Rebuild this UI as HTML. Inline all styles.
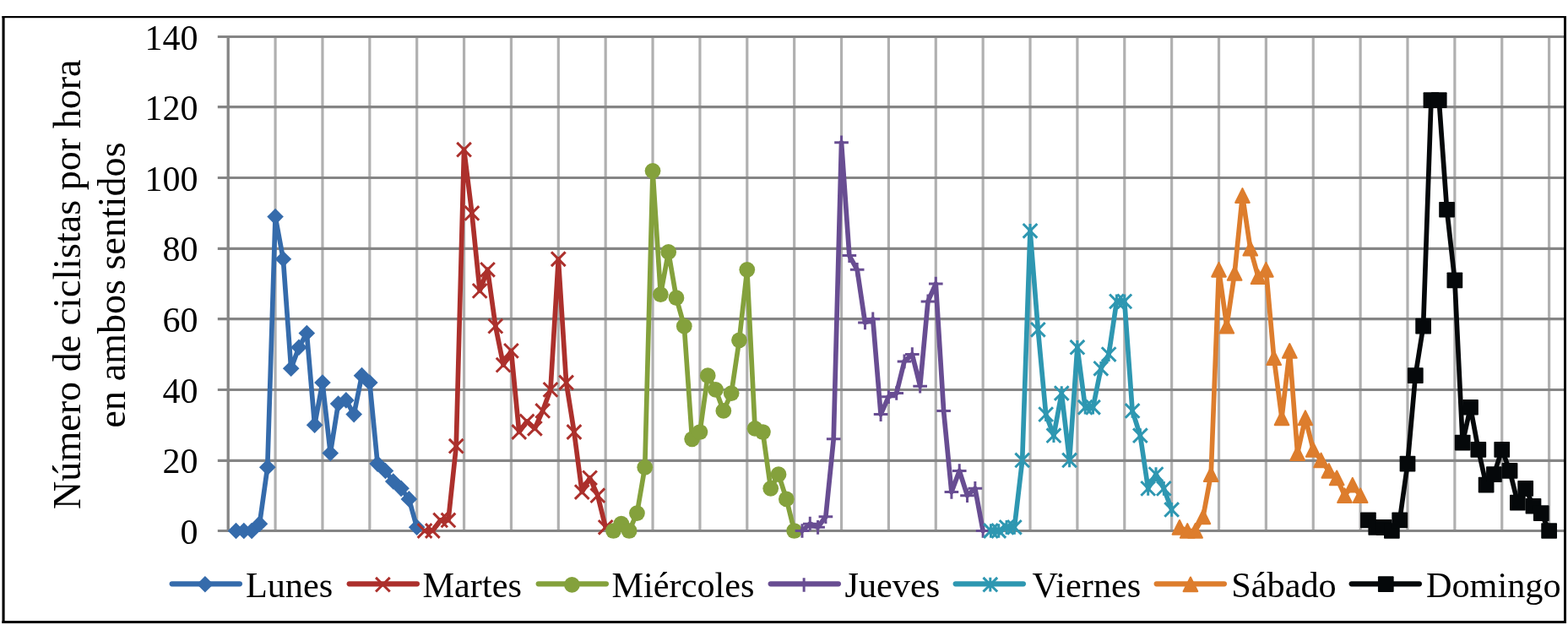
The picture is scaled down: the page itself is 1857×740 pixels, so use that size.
<!DOCTYPE html>
<html lang="es">
<head>
<meta charset="utf-8">
<title>Número de ciclistas por hora en ambos sentidos</title>
<style>
html,body{margin:0;padding:0;background:#fff;}
body{width:1857px;height:740px;overflow:hidden;}
svg{display:block;}
text{font-family:"Liberation Serif",serif;fill:#000;}
.tick{font-size:42px;text-anchor:end;}
.leg{font-size:42.25px;}
.ttl{font-size:46.1px;text-anchor:middle;}
</style>
</head>
<body>
<svg role="img" aria-label="Número de ciclistas por hora en ambos sentidos" width="1857" height="740" viewBox="0 0 1857 740">
<rect x="0" y="0" width="1857" height="740" fill="#fff"/>
<g id="frame" fill="#000">
<rect x="2.5" y="19" width="1852.5" height="2.2"/>
<rect x="2.5" y="735" width="1852.5" height="3"/>
<rect x="2.5" y="19" width="3.1" height="719"/>
<rect x="1852" y="19" width="3" height="719"/>
</g>
<g id="grid-v" stroke="#B0B0B0" stroke-width="3.2" fill="none">
<line x1="326.07" y1="43.5" x2="326.07" y2="628.5"/>
<line x1="381.94" y1="43.5" x2="381.94" y2="628.5"/>
<line x1="437.82" y1="43.5" x2="437.82" y2="628.5"/>
<line x1="493.69" y1="43.5" x2="493.69" y2="628.5"/>
<line x1="549.56" y1="43.5" x2="549.56" y2="628.5"/>
<line x1="605.43" y1="43.5" x2="605.43" y2="628.5"/>
<line x1="661.3" y1="43.5" x2="661.3" y2="628.5"/>
<line x1="717.18" y1="43.5" x2="717.18" y2="628.5"/>
<line x1="773.05" y1="43.5" x2="773.05" y2="628.5"/>
<line x1="828.92" y1="43.5" x2="828.92" y2="628.5"/>
<line x1="884.79" y1="43.5" x2="884.79" y2="628.5"/>
<line x1="940.66" y1="43.5" x2="940.66" y2="628.5"/>
<line x1="996.54" y1="43.5" x2="996.54" y2="628.5"/>
<line x1="1052.41" y1="43.5" x2="1052.41" y2="628.5"/>
<line x1="1108.28" y1="43.5" x2="1108.28" y2="628.5"/>
<line x1="1164.15" y1="43.5" x2="1164.15" y2="628.5"/>
<line x1="1220.02" y1="43.5" x2="1220.02" y2="628.5"/>
<line x1="1275.9" y1="43.5" x2="1275.9" y2="628.5"/>
<line x1="1331.77" y1="43.5" x2="1331.77" y2="628.5"/>
<line x1="1387.64" y1="43.5" x2="1387.64" y2="628.5"/>
<line x1="1443.51" y1="43.5" x2="1443.51" y2="628.5"/>
<line x1="1499.38" y1="43.5" x2="1499.38" y2="628.5"/>
<line x1="1555.26" y1="43.5" x2="1555.26" y2="628.5"/>
<line x1="1611.13" y1="43.5" x2="1611.13" y2="628.5"/>
<line x1="1667" y1="43.5" x2="1667" y2="628.5"/>
<line x1="1722.87" y1="43.5" x2="1722.87" y2="628.5"/>
<line x1="1778.74" y1="43.5" x2="1778.74" y2="628.5"/>
<line x1="1834.62" y1="43.5" x2="1834.62" y2="628.5"/>
</g>
<g id="grid-h" stroke="#858585" stroke-width="3.2" fill="none">
<line x1="257.8" y1="628.5" x2="1852" y2="628.5"/>
<line x1="257.8" y1="545.4" x2="1852" y2="545.4"/>
<line x1="257.8" y1="461.5" x2="1852" y2="461.5"/>
<line x1="257.8" y1="377.6" x2="1852" y2="377.6"/>
<line x1="257.8" y1="294.4" x2="1852" y2="294.4"/>
<line x1="257.8" y1="210.5" x2="1852" y2="210.5"/>
<line x1="257.8" y1="126.6" x2="1852" y2="126.6"/>
<line x1="257.8" y1="43.5" x2="1852" y2="43.5"/>
</g>
<line id="axis-y" x1="270.2" y1="41.9" x2="270.2" y2="630.1" stroke="#858585" stroke-width="3.3"/>
<g id="ticks">
<text class="tick" x="234.6" y="643.5">0</text>
<text class="tick" x="234.6" y="560.4">20</text>
<text class="tick" x="234.6" y="476.5">40</text>
<text class="tick" x="234.6" y="392.6">60</text>
<text class="tick" x="234.6" y="309.4">80</text>
<text class="tick" x="234.6" y="225.5">100</text>
<text class="tick" x="234.6" y="141.6">120</text>
<text class="tick" x="234.6" y="58.5">140</text>
</g>
<g id="ytitle">
<text class="ttl" transform="translate(95.0 336.7) rotate(-90)">Número de ciclistas por hora</text>
<text class="ttl" transform="translate(148.0 337.4) rotate(-90)">en ambos sentidos</text>
</g>
<g id="s-Lunes">
<polyline fill="none" stroke="#356BAB" stroke-width="5.7" stroke-linejoin="round" stroke-linecap="round" points="279.51,628.5 288.82,628.5 298.14,628.5 307.45,620.14 316.76,553.29 326.07,256.61 335.38,306.75 344.7,436.29 354.01,411.21 363.32,394.5 372.63,503.14 381.94,453 391.26,536.57 400.57,478.07 409.88,473.89 419.19,490.61 428.5,444.64 437.82,453 447.13,549.11 456.44,557.46 465.75,570 475.06,578.36 484.38,590.89 493.69,624.32"/>
<path d="M279.51 618.7L289.31 628.5L279.51 638.3L269.71 628.5Z" fill="#356BAB"/>
<path d="M288.82 618.7L298.62 628.5L288.82 638.3L279.02 628.5Z" fill="#356BAB"/>
<path d="M298.14 618.7L307.94 628.5L298.14 638.3L288.34 628.5Z" fill="#356BAB"/>
<path d="M307.45 610.34L317.25 620.14L307.45 629.94L297.65 620.14Z" fill="#356BAB"/>
<path d="M316.76 543.49L326.56 553.29L316.76 563.09L306.96 553.29Z" fill="#356BAB"/>
<path d="M326.07 246.81L335.87 256.61L326.07 266.41L316.27 256.61Z" fill="#356BAB"/>
<path d="M335.38 296.95L345.18 306.75L335.38 316.55L325.58 306.75Z" fill="#356BAB"/>
<path d="M344.7 426.49L354.5 436.29L344.7 446.09L334.9 436.29Z" fill="#356BAB"/>
<path d="M354.01 401.41L363.81 411.21L354.01 421.01L344.21 411.21Z" fill="#356BAB"/>
<path d="M363.32 384.7L373.12 394.5L363.32 404.3L353.52 394.5Z" fill="#356BAB"/>
<path d="M372.63 493.34L382.43 503.14L372.63 512.94L362.83 503.14Z" fill="#356BAB"/>
<path d="M381.94 443.2L391.74 453L381.94 462.8L372.14 453Z" fill="#356BAB"/>
<path d="M391.26 526.77L401.06 536.57L391.26 546.37L381.46 536.57Z" fill="#356BAB"/>
<path d="M400.57 468.27L410.37 478.07L400.57 487.87L390.77 478.07Z" fill="#356BAB"/>
<path d="M409.88 464.09L419.68 473.89L409.88 483.69L400.08 473.89Z" fill="#356BAB"/>
<path d="M419.19 480.81L428.99 490.61L419.19 500.41L409.39 490.61Z" fill="#356BAB"/>
<path d="M428.5 434.84L438.3 444.64L428.5 454.44L418.7 444.64Z" fill="#356BAB"/>
<path d="M437.82 443.2L447.62 453L437.82 462.8L428.02 453Z" fill="#356BAB"/>
<path d="M447.13 539.31L456.93 549.11L447.13 558.91L437.33 549.11Z" fill="#356BAB"/>
<path d="M456.44 547.66L466.24 557.46L456.44 567.26L446.64 557.46Z" fill="#356BAB"/>
<path d="M465.75 560.2L475.55 570L465.75 579.8L455.95 570Z" fill="#356BAB"/>
<path d="M475.06 568.56L484.86 578.36L475.06 588.16L465.26 578.36Z" fill="#356BAB"/>
<path d="M484.38 581.09L494.18 590.89L484.38 600.69L474.58 590.89Z" fill="#356BAB"/>
<path d="M493.69 614.52L503.49 624.32L493.69 634.12L483.89 624.32Z" fill="#356BAB"/>
</g>
<g id="s-Martes">
<polyline fill="none" stroke="#AC302C" stroke-width="5.7" stroke-linejoin="round" stroke-linecap="round" points="503,628.5 512.31,628.5 521.62,615.96 530.94,615.96 540.25,528.21 549.56,177.21 558.87,252.43 568.18,344.36 577.5,319.29 586.81,386.14 596.12,432.11 605.43,415.39 614.74,511.5 624.06,498.96 633.37,507.32 642.68,486.43 651.99,461.36 661.3,306.75 670.62,453 679.93,511.5 689.24,582.54 698.55,565.82 707.86,586.71 717.18,624.32"/>
<path d="M494.67 620.17L511.33 636.83M511.33 620.17L494.67 636.83" stroke="#AC302C" stroke-width="3.0" fill="none"/>
<path d="M503.98 620.17L520.64 636.83M520.64 620.17L503.98 636.83" stroke="#AC302C" stroke-width="3.0" fill="none"/>
<path d="M513.29 607.63L529.95 624.29M529.95 607.63L513.29 624.29" stroke="#AC302C" stroke-width="3.0" fill="none"/>
<path d="M522.61 607.63L539.27 624.29M539.27 607.63L522.61 624.29" stroke="#AC302C" stroke-width="3.0" fill="none"/>
<path d="M531.92 519.88L548.58 536.54M548.58 519.88L531.92 536.54" stroke="#AC302C" stroke-width="3.0" fill="none"/>
<path d="M541.23 168.88L557.89 185.54M557.89 168.88L541.23 185.54" stroke="#AC302C" stroke-width="3.0" fill="none"/>
<path d="M550.54 244.1L567.2 260.76M567.2 244.1L550.54 260.76" stroke="#AC302C" stroke-width="3.0" fill="none"/>
<path d="M559.85 336.03L576.51 352.69M576.51 336.03L559.85 352.69" stroke="#AC302C" stroke-width="3.0" fill="none"/>
<path d="M569.17 310.96L585.83 327.62M585.83 310.96L569.17 327.62" stroke="#AC302C" stroke-width="3.0" fill="none"/>
<path d="M578.48 377.81L595.14 394.47M595.14 377.81L578.48 394.47" stroke="#AC302C" stroke-width="3.0" fill="none"/>
<path d="M587.79 423.78L604.45 440.44M604.45 423.78L587.79 440.44" stroke="#AC302C" stroke-width="3.0" fill="none"/>
<path d="M597.1 407.06L613.76 423.72M613.76 407.06L597.1 423.72" stroke="#AC302C" stroke-width="3.0" fill="none"/>
<path d="M606.41 503.17L623.07 519.83M623.07 503.17L606.41 519.83" stroke="#AC302C" stroke-width="3.0" fill="none"/>
<path d="M615.73 490.63L632.39 507.29M632.39 490.63L615.73 507.29" stroke="#AC302C" stroke-width="3.0" fill="none"/>
<path d="M625.04 498.99L641.7 515.65M641.7 498.99L625.04 515.65" stroke="#AC302C" stroke-width="3.0" fill="none"/>
<path d="M634.35 478.1L651.01 494.76M651.01 478.1L634.35 494.76" stroke="#AC302C" stroke-width="3.0" fill="none"/>
<path d="M643.66 453.03L660.32 469.69M660.32 453.03L643.66 469.69" stroke="#AC302C" stroke-width="3.0" fill="none"/>
<path d="M652.97 298.42L669.63 315.08M669.63 298.42L652.97 315.08" stroke="#AC302C" stroke-width="3.0" fill="none"/>
<path d="M662.29 444.67L678.95 461.33M678.95 444.67L662.29 461.33" stroke="#AC302C" stroke-width="3.0" fill="none"/>
<path d="M671.6 503.17L688.26 519.83M688.26 503.17L671.6 519.83" stroke="#AC302C" stroke-width="3.0" fill="none"/>
<path d="M680.91 574.21L697.57 590.87M697.57 574.21L680.91 590.87" stroke="#AC302C" stroke-width="3.0" fill="none"/>
<path d="M690.22 557.49L706.88 574.15M706.88 557.49L690.22 574.15" stroke="#AC302C" stroke-width="3.0" fill="none"/>
<path d="M699.53 578.38L716.19 595.04M716.19 578.38L699.53 595.04" stroke="#AC302C" stroke-width="3.0" fill="none"/>
<path d="M708.85 615.99L725.51 632.65M725.51 615.99L708.85 632.65" stroke="#AC302C" stroke-width="3.0" fill="none"/>
</g>
<g id="s-Miércoles">
<polyline fill="none" stroke="#84A13C" stroke-width="5.7" stroke-linejoin="round" stroke-linecap="round" points="726.49,628.5 735.8,620.14 745.11,628.5 754.42,607.61 763.74,553.29 773.05,202.29 782.36,348.54 791.67,298.39 800.98,352.71 810.3,386.14 819.61,519.86 828.92,511.5 838.23,444.64 847.54,461.36 856.86,486.43 866.17,465.54 875.48,402.86 884.79,319.29 894.1,507.32 903.42,511.5 912.73,578.36 922.04,561.64 931.35,590.89 940.66,628.5"/>
<circle cx="726.49" cy="628.5" r="9.37" fill="#84A13C"/>
<circle cx="735.8" cy="620.14" r="9.37" fill="#84A13C"/>
<circle cx="745.11" cy="628.5" r="9.37" fill="#84A13C"/>
<circle cx="754.42" cy="607.61" r="9.37" fill="#84A13C"/>
<circle cx="763.74" cy="553.29" r="9.37" fill="#84A13C"/>
<circle cx="773.05" cy="202.29" r="9.37" fill="#84A13C"/>
<circle cx="782.36" cy="348.54" r="9.37" fill="#84A13C"/>
<circle cx="791.67" cy="298.39" r="9.37" fill="#84A13C"/>
<circle cx="800.98" cy="352.71" r="9.37" fill="#84A13C"/>
<circle cx="810.3" cy="386.14" r="9.37" fill="#84A13C"/>
<circle cx="819.61" cy="519.86" r="9.37" fill="#84A13C"/>
<circle cx="828.92" cy="511.5" r="9.37" fill="#84A13C"/>
<circle cx="838.23" cy="444.64" r="9.37" fill="#84A13C"/>
<circle cx="847.54" cy="461.36" r="9.37" fill="#84A13C"/>
<circle cx="856.86" cy="486.43" r="9.37" fill="#84A13C"/>
<circle cx="866.17" cy="465.54" r="9.37" fill="#84A13C"/>
<circle cx="875.48" cy="402.86" r="9.37" fill="#84A13C"/>
<circle cx="884.79" cy="319.29" r="9.37" fill="#84A13C"/>
<circle cx="894.1" cy="507.32" r="9.37" fill="#84A13C"/>
<circle cx="903.42" cy="511.5" r="9.37" fill="#84A13C"/>
<circle cx="912.73" cy="578.36" r="9.37" fill="#84A13C"/>
<circle cx="922.04" cy="561.64" r="9.37" fill="#84A13C"/>
<circle cx="931.35" cy="590.89" r="9.37" fill="#84A13C"/>
<circle cx="940.66" cy="628.5" r="9.37" fill="#84A13C"/>
</g>
<g id="s-Jueves">
<polyline fill="none" stroke="#684D92" stroke-width="5.7" stroke-linejoin="round" stroke-linecap="round" points="949.98,628.5 959.29,620.14 968.6,624.32 977.91,611.79 987.22,519.86 996.54,168.86 1005.85,302.57 1015.16,319.29 1024.47,381.96 1033.78,377.79 1043.1,490.61 1052.41,469.71 1061.72,465.54 1071.03,427.93 1080.34,419.57 1089.66,457.18 1098.97,356.89 1108.28,336 1117.59,486.43 1126.9,582.54 1136.22,557.46 1145.53,586.71 1154.84,578.36 1164.15,628.5"/>
<path d="M949.98 620.17L949.98 636.83M941.65 628.5L958.31 628.5" stroke="#684D92" stroke-width="3.0" fill="none"/>
<path d="M959.29 611.81L959.29 628.47M950.96 620.14L967.62 620.14" stroke="#684D92" stroke-width="3.0" fill="none"/>
<path d="M968.6 615.99L968.6 632.65M960.27 624.32L976.93 624.32" stroke="#684D92" stroke-width="3.0" fill="none"/>
<path d="M977.91 603.46L977.91 620.12M969.58 611.79L986.24 611.79" stroke="#684D92" stroke-width="3.0" fill="none"/>
<path d="M987.22 511.53L987.22 528.19M978.89 519.86L995.55 519.86" stroke="#684D92" stroke-width="3.0" fill="none"/>
<path d="M996.54 160.53L996.54 177.19M988.21 168.86L1004.87 168.86" stroke="#684D92" stroke-width="3.0" fill="none"/>
<path d="M1005.85 294.24L1005.85 310.9M997.52 302.57L1014.18 302.57" stroke="#684D92" stroke-width="3.0" fill="none"/>
<path d="M1015.16 310.96L1015.16 327.62M1006.83 319.29L1023.49 319.29" stroke="#684D92" stroke-width="3.0" fill="none"/>
<path d="M1024.47 373.63L1024.47 390.29M1016.14 381.96L1032.8 381.96" stroke="#684D92" stroke-width="3.0" fill="none"/>
<path d="M1033.78 369.46L1033.78 386.12M1025.45 377.79L1042.11 377.79" stroke="#684D92" stroke-width="3.0" fill="none"/>
<path d="M1043.1 482.28L1043.1 498.94M1034.77 490.61L1051.43 490.61" stroke="#684D92" stroke-width="3.0" fill="none"/>
<path d="M1052.41 461.38L1052.41 478.04M1044.08 469.71L1060.74 469.71" stroke="#684D92" stroke-width="3.0" fill="none"/>
<path d="M1061.72 457.21L1061.72 473.87M1053.39 465.54L1070.05 465.54" stroke="#684D92" stroke-width="3.0" fill="none"/>
<path d="M1071.03 419.6L1071.03 436.26M1062.7 427.93L1079.36 427.93" stroke="#684D92" stroke-width="3.0" fill="none"/>
<path d="M1080.34 411.24L1080.34 427.9M1072.01 419.57L1088.67 419.57" stroke="#684D92" stroke-width="3.0" fill="none"/>
<path d="M1089.66 448.85L1089.66 465.51M1081.33 457.18L1097.99 457.18" stroke="#684D92" stroke-width="3.0" fill="none"/>
<path d="M1098.97 348.56L1098.97 365.22M1090.64 356.89L1107.3 356.89" stroke="#684D92" stroke-width="3.0" fill="none"/>
<path d="M1108.28 327.67L1108.28 344.33M1099.95 336L1116.61 336" stroke="#684D92" stroke-width="3.0" fill="none"/>
<path d="M1117.59 478.1L1117.59 494.76M1109.26 486.43L1125.92 486.43" stroke="#684D92" stroke-width="3.0" fill="none"/>
<path d="M1126.9 574.21L1126.9 590.87M1118.57 582.54L1135.23 582.54" stroke="#684D92" stroke-width="3.0" fill="none"/>
<path d="M1136.22 549.13L1136.22 565.79M1127.89 557.46L1144.55 557.46" stroke="#684D92" stroke-width="3.0" fill="none"/>
<path d="M1145.53 578.38L1145.53 595.04M1137.2 586.71L1153.86 586.71" stroke="#684D92" stroke-width="3.0" fill="none"/>
<path d="M1154.84 570.03L1154.84 586.69M1146.51 578.36L1163.17 578.36" stroke="#684D92" stroke-width="3.0" fill="none"/>
<path d="M1164.15 620.17L1164.15 636.83M1155.82 628.5L1172.48 628.5" stroke="#684D92" stroke-width="3.0" fill="none"/>
</g>
<g id="s-Viernes">
<polyline fill="none" stroke="#2E97B1" stroke-width="5.7" stroke-linejoin="round" stroke-linecap="round" points="1173.46,628.5 1182.78,628.5 1192.09,624.32 1201.4,624.32 1210.71,544.93 1220.02,273.32 1229.34,390.32 1238.65,490.61 1247.96,515.68 1257.27,465.54 1266.58,544.93 1275.9,411.21 1285.21,482.25 1294.52,482.25 1303.83,436.29 1313.14,419.57 1322.46,356.89 1331.77,356.89 1341.08,486.43 1350.39,515.68 1359.7,578.36 1369.02,561.64 1378.33,578.36 1387.64,603.43"/>
<path d="M1165.13 620.17L1181.79 636.83M1181.79 620.17L1165.13 636.83M1173.46 620.17L1173.46 636.83" stroke="#2E97B1" stroke-width="3.0" fill="none"/>
<path d="M1174.45 620.17L1191.11 636.83M1191.11 620.17L1174.45 636.83M1182.78 620.17L1182.78 636.83" stroke="#2E97B1" stroke-width="3.0" fill="none"/>
<path d="M1183.76 615.99L1200.42 632.65M1200.42 615.99L1183.76 632.65M1192.09 615.99L1192.09 632.65" stroke="#2E97B1" stroke-width="3.0" fill="none"/>
<path d="M1193.07 615.99L1209.73 632.65M1209.73 615.99L1193.07 632.65M1201.4 615.99L1201.4 632.65" stroke="#2E97B1" stroke-width="3.0" fill="none"/>
<path d="M1202.38 536.6L1219.04 553.26M1219.04 536.6L1202.38 553.26M1210.71 536.6L1210.71 553.26" stroke="#2E97B1" stroke-width="3.0" fill="none"/>
<path d="M1211.69 264.99L1228.35 281.65M1228.35 264.99L1211.69 281.65M1220.02 264.99L1220.02 281.65" stroke="#2E97B1" stroke-width="3.0" fill="none"/>
<path d="M1221.01 381.99L1237.67 398.65M1237.67 381.99L1221.01 398.65M1229.34 381.99L1229.34 398.65" stroke="#2E97B1" stroke-width="3.0" fill="none"/>
<path d="M1230.32 482.28L1246.98 498.94M1246.98 482.28L1230.32 498.94M1238.65 482.28L1238.65 498.94" stroke="#2E97B1" stroke-width="3.0" fill="none"/>
<path d="M1239.63 507.35L1256.29 524.01M1256.29 507.35L1239.63 524.01M1247.96 507.35L1247.96 524.01" stroke="#2E97B1" stroke-width="3.0" fill="none"/>
<path d="M1248.94 457.21L1265.6 473.87M1265.6 457.21L1248.94 473.87M1257.27 457.21L1257.27 473.87" stroke="#2E97B1" stroke-width="3.0" fill="none"/>
<path d="M1258.25 536.6L1274.91 553.26M1274.91 536.6L1258.25 553.26M1266.58 536.6L1266.58 553.26" stroke="#2E97B1" stroke-width="3.0" fill="none"/>
<path d="M1267.57 402.88L1284.23 419.54M1284.23 402.88L1267.57 419.54M1275.9 402.88L1275.9 419.54" stroke="#2E97B1" stroke-width="3.0" fill="none"/>
<path d="M1276.88 473.92L1293.54 490.58M1293.54 473.92L1276.88 490.58M1285.21 473.92L1285.21 490.58" stroke="#2E97B1" stroke-width="3.0" fill="none"/>
<path d="M1286.19 473.92L1302.85 490.58M1302.85 473.92L1286.19 490.58M1294.52 473.92L1294.52 490.58" stroke="#2E97B1" stroke-width="3.0" fill="none"/>
<path d="M1295.5 427.96L1312.16 444.62M1312.16 427.96L1295.5 444.62M1303.83 427.96L1303.83 444.62" stroke="#2E97B1" stroke-width="3.0" fill="none"/>
<path d="M1304.81 411.24L1321.47 427.9M1321.47 411.24L1304.81 427.9M1313.14 411.24L1313.14 427.9" stroke="#2E97B1" stroke-width="3.0" fill="none"/>
<path d="M1314.13 348.56L1330.79 365.22M1330.79 348.56L1314.13 365.22M1322.46 348.56L1322.46 365.22" stroke="#2E97B1" stroke-width="3.0" fill="none"/>
<path d="M1323.44 348.56L1340.1 365.22M1340.1 348.56L1323.44 365.22M1331.77 348.56L1331.77 365.22" stroke="#2E97B1" stroke-width="3.0" fill="none"/>
<path d="M1332.75 478.1L1349.41 494.76M1349.41 478.1L1332.75 494.76M1341.08 478.1L1341.08 494.76" stroke="#2E97B1" stroke-width="3.0" fill="none"/>
<path d="M1342.06 507.35L1358.72 524.01M1358.72 507.35L1342.06 524.01M1350.39 507.35L1350.39 524.01" stroke="#2E97B1" stroke-width="3.0" fill="none"/>
<path d="M1351.37 570.03L1368.03 586.69M1368.03 570.03L1351.37 586.69M1359.7 570.03L1359.7 586.69" stroke="#2E97B1" stroke-width="3.0" fill="none"/>
<path d="M1360.69 553.31L1377.35 569.97M1377.35 553.31L1360.69 569.97M1369.02 553.31L1369.02 569.97" stroke="#2E97B1" stroke-width="3.0" fill="none"/>
<path d="M1370 570.03L1386.66 586.69M1386.66 570.03L1370 586.69M1378.33 570.03L1378.33 586.69" stroke="#2E97B1" stroke-width="3.0" fill="none"/>
<path d="M1379.31 595.1L1395.97 611.76M1395.97 595.1L1379.31 611.76M1387.64 595.1L1387.64 611.76" stroke="#2E97B1" stroke-width="3.0" fill="none"/>
</g>
<g id="s-Sábado">
<polyline fill="none" stroke="#DD7D2D" stroke-width="5.7" stroke-linejoin="round" stroke-linecap="round" points="1396.95,624.32 1406.26,628.5 1415.58,628.5 1424.89,611.79 1434.2,561.64 1443.51,319.29 1452.82,386.14 1462.14,323.46 1471.45,231.54 1480.76,294.21 1490.07,327.64 1499.38,319.29 1508.7,423.75 1518.01,494.79 1527.32,415.39 1536.63,536.57 1545.94,494.79 1555.26,532.39 1564.57,544.93 1573.88,557.46 1583.19,565.82 1592.5,586.71 1601.82,574.18 1611.13,586.71"/>
<path d="M1396.95 615.99L1405.28 632.65L1388.62 632.65Z" fill="#DD7D2D" stroke="#DD7D2D" stroke-width="2.08" stroke-linejoin="round"/>
<path d="M1406.26 620.17L1414.59 636.83L1397.93 636.83Z" fill="#DD7D2D" stroke="#DD7D2D" stroke-width="2.08" stroke-linejoin="round"/>
<path d="M1415.58 620.17L1423.91 636.83L1407.25 636.83Z" fill="#DD7D2D" stroke="#DD7D2D" stroke-width="2.08" stroke-linejoin="round"/>
<path d="M1424.89 603.46L1433.22 620.12L1416.56 620.12Z" fill="#DD7D2D" stroke="#DD7D2D" stroke-width="2.08" stroke-linejoin="round"/>
<path d="M1434.2 553.31L1442.53 569.97L1425.87 569.97Z" fill="#DD7D2D" stroke="#DD7D2D" stroke-width="2.08" stroke-linejoin="round"/>
<path d="M1443.51 310.96L1451.84 327.62L1435.18 327.62Z" fill="#DD7D2D" stroke="#DD7D2D" stroke-width="2.08" stroke-linejoin="round"/>
<path d="M1452.82 377.81L1461.15 394.47L1444.49 394.47Z" fill="#DD7D2D" stroke="#DD7D2D" stroke-width="2.08" stroke-linejoin="round"/>
<path d="M1462.14 315.13L1470.47 331.79L1453.81 331.79Z" fill="#DD7D2D" stroke="#DD7D2D" stroke-width="2.08" stroke-linejoin="round"/>
<path d="M1471.45 223.21L1479.78 239.87L1463.12 239.87Z" fill="#DD7D2D" stroke="#DD7D2D" stroke-width="2.08" stroke-linejoin="round"/>
<path d="M1480.76 285.88L1489.09 302.54L1472.43 302.54Z" fill="#DD7D2D" stroke="#DD7D2D" stroke-width="2.08" stroke-linejoin="round"/>
<path d="M1490.07 319.31L1498.4 335.97L1481.74 335.97Z" fill="#DD7D2D" stroke="#DD7D2D" stroke-width="2.08" stroke-linejoin="round"/>
<path d="M1499.38 310.96L1507.71 327.62L1491.05 327.62Z" fill="#DD7D2D" stroke="#DD7D2D" stroke-width="2.08" stroke-linejoin="round"/>
<path d="M1508.7 415.42L1517.03 432.08L1500.37 432.08Z" fill="#DD7D2D" stroke="#DD7D2D" stroke-width="2.08" stroke-linejoin="round"/>
<path d="M1518.01 486.46L1526.34 503.12L1509.68 503.12Z" fill="#DD7D2D" stroke="#DD7D2D" stroke-width="2.08" stroke-linejoin="round"/>
<path d="M1527.32 407.06L1535.65 423.72L1518.99 423.72Z" fill="#DD7D2D" stroke="#DD7D2D" stroke-width="2.08" stroke-linejoin="round"/>
<path d="M1536.63 528.24L1544.96 544.9L1528.3 544.9Z" fill="#DD7D2D" stroke="#DD7D2D" stroke-width="2.08" stroke-linejoin="round"/>
<path d="M1545.94 486.46L1554.27 503.12L1537.61 503.12Z" fill="#DD7D2D" stroke="#DD7D2D" stroke-width="2.08" stroke-linejoin="round"/>
<path d="M1555.26 524.06L1563.59 540.72L1546.93 540.72Z" fill="#DD7D2D" stroke="#DD7D2D" stroke-width="2.08" stroke-linejoin="round"/>
<path d="M1564.57 536.6L1572.9 553.26L1556.24 553.26Z" fill="#DD7D2D" stroke="#DD7D2D" stroke-width="2.08" stroke-linejoin="round"/>
<path d="M1573.88 549.13L1582.21 565.79L1565.55 565.79Z" fill="#DD7D2D" stroke="#DD7D2D" stroke-width="2.08" stroke-linejoin="round"/>
<path d="M1583.19 557.49L1591.52 574.15L1574.86 574.15Z" fill="#DD7D2D" stroke="#DD7D2D" stroke-width="2.08" stroke-linejoin="round"/>
<path d="M1592.5 578.38L1600.83 595.04L1584.17 595.04Z" fill="#DD7D2D" stroke="#DD7D2D" stroke-width="2.08" stroke-linejoin="round"/>
<path d="M1601.82 565.85L1610.15 582.51L1593.49 582.51Z" fill="#DD7D2D" stroke="#DD7D2D" stroke-width="2.08" stroke-linejoin="round"/>
<path d="M1611.13 578.38L1619.46 595.04L1602.8 595.04Z" fill="#DD7D2D" stroke="#DD7D2D" stroke-width="2.08" stroke-linejoin="round"/>
</g>
<g id="s-Domingo">
<polyline fill="none" stroke="#05080A" stroke-width="5.7" stroke-linejoin="round" stroke-linecap="round" points="1620.44,615.96 1629.75,624.32 1639.06,624.32 1648.38,628.5 1657.69,615.96 1667,549.11 1676.31,444.64 1685.62,386.14 1694.94,118.71 1704.25,118.71 1713.56,248.25 1722.87,331.82 1732.18,524.04 1741.5,482.25 1750.81,532.39 1760.12,574.18 1769.43,561.64 1778.74,532.39 1788.06,557.46 1797.37,595.07 1806.68,578.36 1815.99,599.25 1825.3,607.61 1834.62,628.5"/>
<rect x="1611.07" y="606.59" width="18.74" height="18.74" rx="0.8" fill="#05080A"/>
<rect x="1620.38" y="614.95" width="18.74" height="18.74" rx="0.8" fill="#05080A"/>
<rect x="1629.69" y="614.95" width="18.74" height="18.74" rx="0.8" fill="#05080A"/>
<rect x="1639.01" y="619.13" width="18.74" height="18.74" rx="0.8" fill="#05080A"/>
<rect x="1648.32" y="606.59" width="18.74" height="18.74" rx="0.8" fill="#05080A"/>
<rect x="1657.63" y="539.74" width="18.74" height="18.74" rx="0.8" fill="#05080A"/>
<rect x="1666.94" y="435.27" width="18.74" height="18.74" rx="0.8" fill="#05080A"/>
<rect x="1676.25" y="376.77" width="18.74" height="18.74" rx="0.8" fill="#05080A"/>
<rect x="1685.57" y="109.34" width="18.74" height="18.74" rx="0.8" fill="#05080A"/>
<rect x="1694.88" y="109.34" width="18.74" height="18.74" rx="0.8" fill="#05080A"/>
<rect x="1704.19" y="238.88" width="18.74" height="18.74" rx="0.8" fill="#05080A"/>
<rect x="1713.5" y="322.45" width="18.74" height="18.74" rx="0.8" fill="#05080A"/>
<rect x="1722.81" y="514.67" width="18.74" height="18.74" rx="0.8" fill="#05080A"/>
<rect x="1732.13" y="472.88" width="18.74" height="18.74" rx="0.8" fill="#05080A"/>
<rect x="1741.44" y="523.02" width="18.74" height="18.74" rx="0.8" fill="#05080A"/>
<rect x="1750.75" y="564.81" width="18.74" height="18.74" rx="0.8" fill="#05080A"/>
<rect x="1760.06" y="552.27" width="18.74" height="18.74" rx="0.8" fill="#05080A"/>
<rect x="1769.37" y="523.02" width="18.74" height="18.74" rx="0.8" fill="#05080A"/>
<rect x="1778.69" y="548.09" width="18.74" height="18.74" rx="0.8" fill="#05080A"/>
<rect x="1788" y="585.7" width="18.74" height="18.74" rx="0.8" fill="#05080A"/>
<rect x="1797.31" y="568.99" width="18.74" height="18.74" rx="0.8" fill="#05080A"/>
<rect x="1806.62" y="589.88" width="18.74" height="18.74" rx="0.8" fill="#05080A"/>
<rect x="1815.93" y="598.24" width="18.74" height="18.74" rx="0.8" fill="#05080A"/>
<rect x="1825.25" y="619.13" width="18.74" height="18.74" rx="0.8" fill="#05080A"/>
</g>
<g id="legend">
<line x1="203.7" y1="691.3" x2="283.9" y2="691.3" stroke="#356BAB" stroke-width="6.2" stroke-linecap="round"/>
<path d="M242.9 681.9L252.7 691.7L242.9 701.5L233.1 691.7Z" fill="#356BAB"/>
<text class="leg" x="290.9" y="706.6">Lunes</text>
<line x1="413.7" y1="691.3" x2="493.9" y2="691.3" stroke="#AC302C" stroke-width="6.2" stroke-linecap="round"/>
<path d="M445.07 683.87L461.73 700.53M461.73 683.87L445.07 700.53" stroke="#AC302C" stroke-width="3.0" fill="none"/>
<text class="leg" x="500.5" y="706.6">Martes</text>
<line x1="637.7" y1="691.3" x2="717.9" y2="691.3" stroke="#84A13C" stroke-width="6.2" stroke-linecap="round"/>
<circle cx="677.4" cy="692.3" r="9.37" fill="#84A13C"/>
<text class="leg" x="724.5" y="706.6">Miércoles</text>
<line x1="912.7" y1="691.3" x2="992.9" y2="691.3" stroke="#684D92" stroke-width="6.2" stroke-linecap="round"/>
<path d="M952.15 684.17L952.15 700.83M943.82 692.5L960.48 692.5" stroke="#684D92" stroke-width="3.0" fill="none"/>
<text class="leg" x="1000.5" y="706.6">Jueves</text>
<line x1="1131.7" y1="691.3" x2="1211.9" y2="691.3" stroke="#2E97B1" stroke-width="6.2" stroke-linecap="round"/>
<path d="M1164.47 683.87L1181.13 700.53M1181.13 683.87L1164.47 700.53M1172.8 683.87L1172.8 700.53" stroke="#2E97B1" stroke-width="3.0" fill="none"/>
<text class="leg" x="1222.4" y="706.6">Viernes</text>
<line x1="1369.7" y1="691.3" x2="1449.9" y2="691.3" stroke="#DD7D2D" stroke-width="6.2" stroke-linecap="round"/>
<path d="M1409.95 683.47L1418.28 700.13L1401.62 700.13Z" fill="#DD7D2D" stroke="#DD7D2D" stroke-width="2.08" stroke-linejoin="round"/>
<text class="leg" x="1458.3" y="706.6">Sábado</text>
<line x1="1600.7" y1="691.3" x2="1680.9" y2="691.3" stroke="#05080A" stroke-width="6.2" stroke-linecap="round"/>
<rect x="1631.93" y="682.33" width="18.74" height="18.74" rx="0.8" fill="#05080A"/>
<text class="leg" x="1688.9" y="706.6">Domingo</text>
</g>
</svg>
</body>
</html>
